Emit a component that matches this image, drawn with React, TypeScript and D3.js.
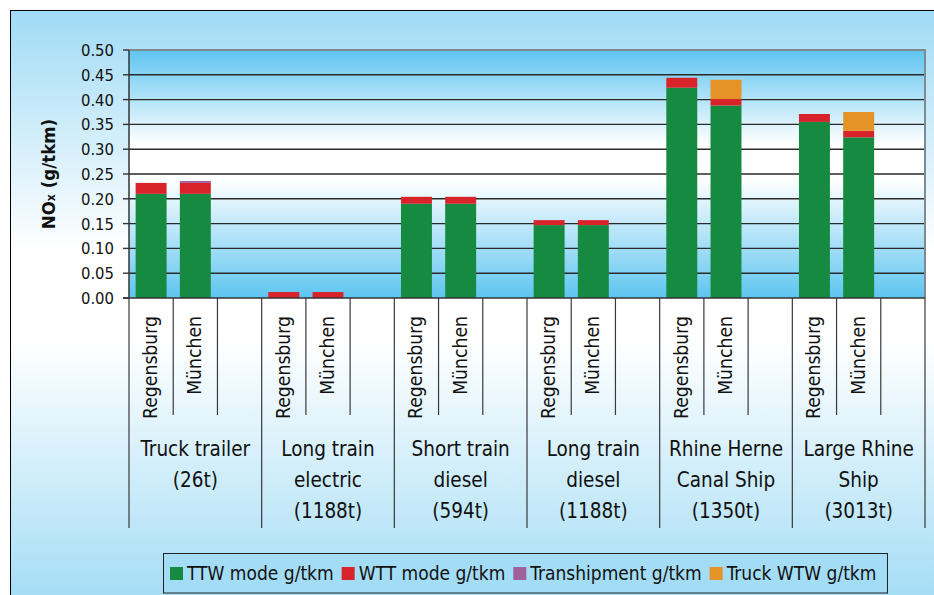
import React, { useEffect, useRef } from "react";
import * as d3 from "d3";

const groups: string[][] = [
  ["Truck trailer", "(26t)"],
  ["Long train", "electric", "(1188t)"],
  ["Short train", "diesel", "(594t)"],
  ["Long train", "diesel", "(1188t)"],
  ["Rhine Herne", "Canal Ship", "(1350t)"],
  ["Large Rhine", "Ship", "(3013t)"],
];
const sites = ["Regensburg", "München"];
const seriesNames = ["TTW mode g/tkm", "WTT mode g/tkm", "Transhipment g/tkm", "Truck WTW g/tkm"];
const seriesColors = ["#178a42", "#d9232b", "#a0609c", "#e59327"];
// one value per bar: group x site
const ttw = [0.21, 0.21, 0, 0, 0.19, 0.19, 0.147, 0.147, 0.424, 0.388, 0.355, 0.324];
const wtt = [0.022, 0.022, 0.012, 0.012, 0.014, 0.014, 0.01, 0.01, 0.02, 0.013, 0.016, 0.013];
const tranship = [0, 0.004, 0, 0, 0, 0, 0, 0, 0, 0, 0, 0];
const truckWtw = [0, 0, 0, 0, 0, 0, 0, 0, 0, 0.039, 0, 0.038];
const yTicks = [0, 0.05, 0.1, 0.15, 0.2, 0.25, 0.3, 0.35, 0.4, 0.45, 0.5];

const FONT = "'DejaVu Sans Condensed', 'DejaVu Sans', sans-serif";

export default function App() {
  const ref = useRef<SVGSVGElement | null>(null);

  useEffect(() => {
    const svg = d3.select(ref.current);
    svg.selectAll("*").remove();
    const W = 934, H = 595;
    const L = 129, R = 925, T = 50, B = 298;

    const defs = svg.append("defs");
    const og = defs.append("linearGradient").attr("id", "outerG").attr("x1", 0).attr("y1", 0).attr("x2", 0).attr("y2", 1);
    og.append("stop").attr("offset", "0").attr("stop-color", "#a0dbf5");
    og.append("stop").attr("offset", "0.40").attr("stop-color", "#ffffff");
    og.append("stop").attr("offset", "0.55").attr("stop-color", "#ffffff");
    og.append("stop").attr("offset", "1").attr("stop-color", "#a0dbf5");
    const pg = defs.append("linearGradient").attr("id", "plotG").attr("x1", 0).attr("y1", 0).attr("x2", 0).attr("y2", 1);
    pg.append("stop").attr("offset", "0").attr("stop-color", "#5ec5f0");
    pg.append("stop").attr("offset", "0.38").attr("stop-color", "#ffffff");
    pg.append("stop").attr("offset", "0.52").attr("stop-color", "#ffffff");
    pg.append("stop").attr("offset", "1").attr("stop-color", "#5ec5f0");

    svg.append("rect").attr("x", 0).attr("y", 0).attr("width", W).attr("height", H).attr("fill", "#ffffff");
    svg.append("rect").attr("x", 10.5).attr("y", 10.5).attr("width", 940).attr("height", 600)
      .attr("fill", "url(#outerG)").attr("stroke", "#000").attr("stroke-width", 1);

    const y = d3.scaleLinear().domain([0, 0.5]).range([B, T]);
    const nSlots = groups.length * 3;
    const slot = d3.scaleBand<number>().domain(d3.range(nSlots)).range([L, R]).padding(0);
    const bw = slot.bandwidth();

    svg.append("rect").attr("x", L).attr("y", T).attr("width", R - L).attr("height", B - T).attr("fill", "url(#plotG)");

    // grid
    svg.append("g").selectAll("line").data(yTicks.filter(t => t > 0 && t < 0.5)).join("line")
      .attr("x1", L).attr("x2", R).attr("y1", d => y(d)).attr("y2", d => y(d))
      .attr("stroke", "#2a2a2a").attr("stroke-width", 1.4);
    // plot border top/right
    svg.append("path").attr("d", `M${L},${T}H${R}V${B}`).attr("fill", "none").attr("stroke", "#7d8b92").attr("stroke-width", 2);

    // stacked bars
    const stackData = ttw.map((_, i) => ({ i, s0: ttw[i], s1: wtt[i], s2: tranship[i], s3: truckWtw[i] }));
    const stack = d3.stack<any>().keys(["s0", "s1", "s2", "s3"]);
    const layers = stack(stackData);
    const barSlot = (i: number) => Math.floor(i / 2) * 3 + (i % 2);
    const barW = bw * 0.7;
    layers.forEach((layer, k) => {
      svg.append("g").selectAll("rect").data(layer.filter(d => d[1] - d[0] > 0)).join("rect")
        .attr("x", d => (slot(barSlot(d.data.i)) as number) + (bw - barW) / 2)
        .attr("width", barW)
        .attr("y", d => y(d[1]))
        .attr("height", d => y(d[0]) - y(d[1]))
        .attr("fill", seriesColors[k]);
    });

    // y axis
    svg.append("line").attr("x1", L).attr("x2", L).attr("y1", T).attr("y2", B).attr("stroke", "#333").attr("stroke-width", 1.5);
    const ya = svg.append("g");
    ya.selectAll("line").data(yTicks).join("line")
      .attr("x1", L - 6).attr("x2", L).attr("y1", d => y(d)).attr("y2", d => y(d))
      .attr("stroke", "#333").attr("stroke-width", 1.4);
    ya.selectAll("text").data(yTicks).join("text")
      .attr("x", L - 15).attr("y", d => y(d)).attr("dy", "0.36em")
      .attr("text-anchor", "end").attr("font-family", FONT).attr("font-size", 16.5).attr("fill", "#111")
      .text(d => d3.format(".2f")(d));

    const yl = svg.append("text").attr("transform", `translate(55,${(T + B) / 2}) rotate(-90)`)
      .attr("text-anchor", "middle").attr("font-family", FONT).attr("font-size", 18.5).attr("font-weight", "bold").attr("fill", "#111");
    yl.append("tspan").text("NO");
    yl.append("tspan").attr("font-size", 12).text("x");
    yl.append("tspan").text(" (g/tkm)");

    // x axis line
    svg.append("line").attr("x1", L - 6).attr("x2", R).attr("y1", B).attr("y2", B).attr("stroke", "#333").attr("stroke-width", 1.5);
    // category separators
    const bounds = d3.range(nSlots + 1);
    svg.append("g").selectAll("line").data(bounds).join("line")
      .attr("x1", d => (d < nSlots ? (slot(d) as number) : R)).attr("x2", d => (d < nSlots ? (slot(d) as number) : R))
      .attr("y1", B).attr("y2", d => (d % 3 === 0 ? 528 : 415))
      .attr("stroke", "#3a3a3a").attr("stroke-width", 1.2);

    // site labels
    const siteData = d3.range(groups.length * 2);
    svg.append("g").selectAll("text").data(siteData).join("text")
      .attr("transform", i => `translate(${(slot(barSlot(i)) as number) + bw / 2 + 6},316) rotate(-90)`)
      .attr("text-anchor", "end").attr("font-family", FONT).attr("font-size", 19.2).attr("fill", "#111")
      .text(i => sites[i % 2]);

    // group labels
    groups.forEach((lines, g) => {
      const cx = (slot(g * 3) as number) + (bw * 3) / 2;
      svg.append("g").selectAll("text").data(lines).join("text")
        .attr("x", cx).attr("y", (_, j) => 456 + j * 31)
        .attr("text-anchor", "middle").attr("font-family", FONT).attr("font-size", 20.5).attr("fill", "#111")
        .text(d => d);
    });

    // legend
    const lg = svg.append("g");
    let x = 170;
    seriesNames.forEach((name, k) => {
      lg.append("rect").attr("x", x).attr("y", 567).attr("width", 13).attr("height", 13).attr("fill", seriesColors[k]);
      const t = lg.append("text").attr("x", x + 17).attr("y", 580).attr("font-family", FONT).attr("font-size", 19).attr("fill", "#111").text(name);
      const w = (t.node() as SVGTextElement).getComputedTextLength();
      x += 17 + w + 8;
    });
    svg.insert("rect", "g:last-child").attr("x", 163.5).attr("y", 553.5).attr("width", Math.max(724, x - 163 - 2)).attr("height", 39.5)
      .attr("fill", "#a3dcf5").attr("stroke", "#222").attr("stroke-width", 1);
    lg.raise();
  }, []);

  return (
    <svg ref={ref} width={934} height={595} style={{ position: "absolute", left: 0, top: 0, display: "block" }} />
  );
}
